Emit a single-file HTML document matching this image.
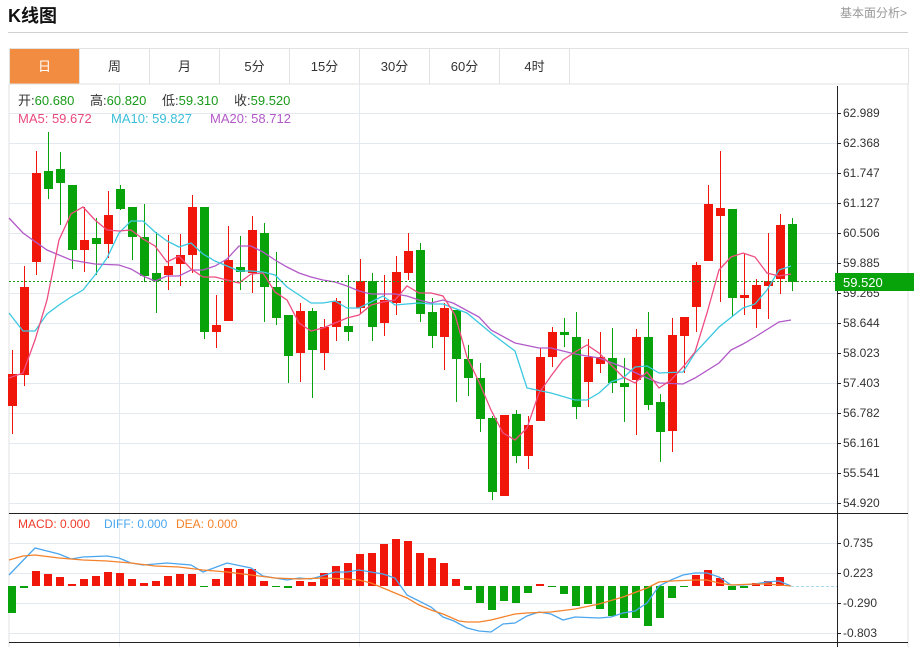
<!DOCTYPE html>
<html><head><meta charset="utf-8">
<style>
*{margin:0;padding:0;box-sizing:border-box}
body{width:914px;height:647px;background:#fff;font-family:"Liberation Sans","Noto Sans CJK SC",sans-serif;position:relative;overflow:hidden}
.t{position:absolute;left:8px;top:2px;font-size:18px;font-weight:bold;color:#111}
.r{position:absolute;left:840px;top:4px;font-size:12px;color:#999}
.hl{position:absolute;left:8px;top:32px;width:900px;height:1px;background:#d0d0d0}
.tabs{position:absolute;left:9px;top:48px;width:900px;height:36px;border:1px solid #e2e2e2;border-bottom:none}
.tab{position:absolute;top:0;width:70px;height:35px;border-right:1px solid #e2e2e2;text-align:center;line-height:35px;font-size:13px;color:#333}
.tab.on{background:#f28c40;color:#fff}
svg{position:absolute;left:0;top:0}
</style></head><body>
<div class="t">K线图</div>
<div class="r">基本面分析&gt;</div>
<div class="hl"></div>
<div class="tabs">
<div class="tab on" style="left:0">日</div>
<div class="tab" style="left:70px">周</div>
<div class="tab" style="left:140px">月</div>
<div class="tab" style="left:210px">5分</div>
<div class="tab" style="left:280px">15分</div>
<div class="tab" style="left:350px">30分</div>
<div class="tab" style="left:420px">60分</div>
<div class="tab" style="left:490px">4时</div>
</div>
<svg id="s" width="914" height="647" xmlns="http://www.w3.org/2000/svg" font-family="Liberation Sans, Noto Sans CJK SC, sans-serif">
<line x1="9" y1="84" x2="908" y2="84" stroke="#e2e2e2"/>
<line x1="9" y1="84" x2="9" y2="647" stroke="#e2e2e2"/>
<line x1="908" y1="84" x2="908" y2="647" stroke="#e2e2e2"/>
<g id="grid" stroke="#e3e9ef" stroke-width="1"></g>
<line x1="119.5" y1="84" x2="119.5" y2="647" stroke="#e3e9ef"/>
<line x1="359.5" y1="84" x2="359.5" y2="647" stroke="#e3e9ef"/>
<line x1="837.5" y1="86" x2="837.5" y2="647" stroke="#222"/>
<line x1="9" y1="513.5" x2="908" y2="513.5" stroke="#222"/>
<line x1="9" y1="642.5" x2="908" y2="642.5" stroke="#222"/>
<g id="hist"></g>
<g id="cand"></g>
<g id="lines" fill="none" stroke-width="1.3"></g>
<line x1="9" y1="281.5" x2="837" y2="281.5" stroke="#1a9a1a" stroke-dasharray="2,2"/>
<line x1="791" y1="586.5" x2="837" y2="586.5" stroke="#a8d8ec" stroke-dasharray="3,2"/>
<g font-size="12" fill="#333">
<text x="843" y="117">62.989</text><text x="843" y="147">62.368</text><text x="843" y="177">61.747</text>
<text x="843" y="207">61.127</text><text x="843" y="237">60.506</text><text x="843" y="267">59.885</text>
<text x="843" y="297">59.265</text><text x="843" y="327">58.644</text><text x="843" y="357">58.023</text>
<text x="843" y="387">57.403</text><text x="843" y="417">56.782</text><text x="843" y="447">56.161</text>
<text x="843" y="477">55.541</text><text x="843" y="507">54.920</text>
<text x="843" y="547">0.735</text><text x="843" y="577">0.223</text><text x="843" y="607">-0.290</text><text x="843" y="637">-0.803</text>
</g>
<rect x="835" y="273" width="79" height="18" fill="#08a30a"/>
<text x="843" y="287" font-size="13" fill="#fff">59.520</text>
<g font-size="13">
<text x="18" y="105" fill="#333">开:<tspan fill="#1a9a1a">60.680</tspan></text>
<text x="90" y="105" fill="#333">高:<tspan fill="#1a9a1a">60.820</tspan></text>
<text x="162" y="105" fill="#333">低:<tspan fill="#1a9a1a">59.310</tspan></text>
<text x="234" y="105" fill="#333">收:<tspan fill="#1a9a1a">59.520</tspan></text>
<text x="18" y="123" fill="#e94a7c">MA5: 59.672</text>
<text x="111" y="123" fill="#3bbfd8">MA10: 59.827</text>
<text x="210" y="123" fill="#b25ac8">MA20: 58.712</text>
<text x="18" y="528" font-size="12" fill="#f03a2a">MACD: 0.000</text>
<text x="104" y="528" font-size="12" fill="#4aa6ee">DIFF: 0.000</text>
<text x="176" y="528" font-size="12" fill="#f5822a">DEA: 0.000</text>
</g>
</svg>
<script>
var NS="http://www.w3.org/2000/svg";
function el(p,t,a){var e=document.createElementNS(NS,t);for(var k in a)e.setAttribute(k,a[k]);document.getElementById(p).appendChild(e);}
[113,143,173,203,233,263,293,323,353,383,413,443,473,503,543,573,603,633].forEach(function(y){el("grid","line",{x1:9,y1:y+.5,x2:837,y2:y+.5});el("grid","line",{x1:837,y1:y+.5,x2:841,y2:y+.5,stroke:"#222"});});
var R="#f0160a",G="#08a30a";
var C=[[1,374,406,350,434],[1,287,375,266,386],[1,173,262,151,275],[0,171,189,132,199],[0,169,183,152,225],[0,185,250,185,269],[1,240,250,207,272],[0,238,244,218,275],[1,215,244,191,258],[0,189,209,185,210],[0,207,237,207,260],[0,237,276,204,282],[0,273,281,232,313],[1,266,275,235,290],[1,255,264,234,286],[1,207,255,195,273],[0,207,332,207,339],[1,325,332,295,348],[1,260,321,226,321],[0,267,272,236,290],[1,230,273,216,293],[0,233,287,223,322],[0,287,318,252,325],[0,315,356,315,383],[1,311,353,303,382],[0,311,350,308,398],[1,327,353,319,370],[1,301,327,298,341],[0,326,332,275,341],[1,281,308,259,314],[0,281,327,273,341],[1,300,323,275,336],[1,272,303,256,315],[1,251,273,233,280],[0,250,314,243,322],[0,312,336,298,348],[1,308,337,303,370],[0,310,359,310,402],[0,359,378,345,396],[0,378,419,363,432],[0,418,492,416,500],[1,415,496,415,496],[0,414,456,410,463],[1,425,456,416,469],[1,357,421,348,421],[1,332,357,327,367],[0,332,335,318,347],[0,337,407,312,419],[1,357,382,339,407],[1,357,364,332,373],[0,358,383,328,393],[0,383,387,358,422],[1,337,380,329,435],[0,337,405,312,410],[0,402,432,394,462],[1,335,431,318,452],[1,317,336,317,373],[1,265,307,262,332],[1,204,261,185,261],[1,208,216,151,302],[0,209,298,209,317],[1,295,298,254,315],[1,285,309,279,328],[1,281,286,233,319],[1,225,279,214,294],[0,224,282,218,291]];
C.forEach(function(c,i){var x=12+12*i,col=c[0]?R:G;
el("cand","line",{x1:x+.5,y1:c[3],x2:x+.5,y2:c[4],stroke:col});
el("cand","rect",{x:x-4,y:c[1],width:9,height:Math.max(1,c[2]-c[1]),fill:col});});
var H=[613,588,571,574,577,584,579,576,572,573,579,583,581,576,574,574,587,579,568,569,569,581,586,588,581,582,573,566,563,554,553,544,539,541,553,558,563,579,590,603,610,601,603,593,584,586,594,606,604,609,616,618,618,626,618,598,587,575,570,578,590,588,583,581,577];
var gr={0:1,1:1,16:1,22:1,23:1,38:1,39:1,40:1,41:1,42:1,43:1,45:1,46:1,47:1,48:1,49:1,50:1,51:1,52:1,53:1,54:1,55:1,56:1,60:1,61:1};
H.forEach(function(y,i){var x=12+12*i,z=586,t=Math.min(y,z),h=Math.max(1,Math.abs(y-z));
el("hist","rect",{x:x-4,y:t,width:8,height:h,fill:gr[i]?G:R});});
function pl(pts,col){el("lines","polyline",{points:pts,stroke:col});}
pl("9,218 23,233 47,250 71,260 95,264 119,265 131,269 143,276 155,281 167,276 179,276 191,270 203,270 215,266 227,259 239,246 251,246 263,252 275,260 287,267 299,273 311,277 323,280 335,282 347,286 359,291 371,294 383,294 395,294 407,296 419,300 431,303 443,300 453,303 479,317 491,330 515,343 539,348 551,348 575,354 599,358 623,367 647,378 659,383 683,384 695,378 719,363 731,350 743,344 755,337 779,322 791,320","#b25ac8");
pl("9,313 23,331 35,331 47,314 59,305 71,297 83,290 95,275 107,258 119,233 131,221 143,221 155,232 167,241 179,247 191,243 203,254 215,261 227,266 239,271 251,271 263,272 275,275 287,287 299,295 311,303 323,303 335,301 347,308 359,308 371,302 383,296 395,305 407,304 419,303 431,304 443,304 467,313 491,333 515,351 527,388 551,393 575,400 587,400 599,393 611,382 623,378 635,367 647,366 659,373 683,372 695,353 719,327 743,308 755,304 767,290 779,270 791,266","#3bc8e0");
pl("9,378 23,373 35,340 47,300 59,240 71,214 83,207 95,220 107,230 119,231 131,230 143,239 155,246 167,262 179,256 191,269 203,277 215,277 227,280 239,283 251,274 263,273 275,292 287,300 299,323 311,331 323,328 335,323 347,318 359,315 371,305 383,302 395,300 407,286 419,293 431,293 443,296 455,315 467,357 479,382 491,410 503,433 515,440 527,428 539,393 551,376 563,360 575,352 587,345 599,353 611,365 623,377 635,383 647,372 659,388 671,380 683,367 695,352 707,313 719,270 731,257 743,253 755,257 767,273 779,276 791,274","#ee4d80");
pl("9,575 35,548 59,554 71,559 83,557 107,556 119,558 131,563 143,565 167,563 191,565 203,572 227,563 251,568 263,576 287,580 299,578 311,579 335,572 347,572 359,570 371,572 383,574 395,578 407,595 431,607 443,617 454,621 467,628 479,631 491,632 503,624 515,623 527,616 539,612 551,614 563,620 575,617 599,618 611,617 623,613 635,611 647,603 659,586 671,580 683,575 695,573 707,573 719,577 731,585 743,585 755,584 767,582 779,581 791,586","#4aa6ee");
pl("9,560 23,556 35,555 59,558 83,560 107,561 131,563 155,566 179,567 203,570 227,572 251,575 275,578 299,579 323,578 347,579 359,580 371,583 383,588 395,593 407,598 419,605 431,610 443,614 459,621 467,622 479,622 491,620 503,617 515,614 527,613 551,612 575,609 599,604 623,597 647,588 659,582 671,581 695,580 707,580 719,583 731,585 755,584 767,584 779,585 791,586","#f5822a");
</script>
</body></html>
